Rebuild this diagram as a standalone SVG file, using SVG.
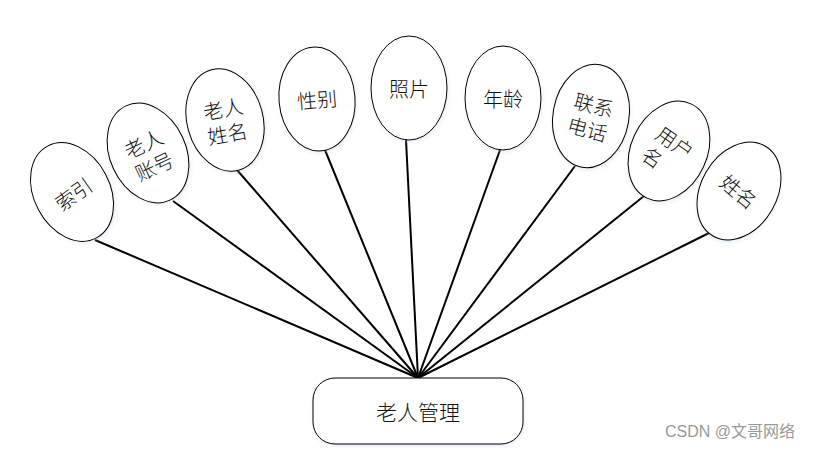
<svg xmlns="http://www.w3.org/2000/svg" width="817" height="449" viewBox="0 0 817 449">
<defs>
<filter id="blur" x="-30%" y="-30%" width="160%" height="160%">
<feGaussianBlur stdDeviation="2"/>
</filter>
<ellipse id="el" rx="38" ry="52"/>
</defs>
<style>
.attr .sh{fill:#b9c9e3;opacity:0.4;filter:url(#blur)}
.attr .bd{fill:#fff;stroke:#000;stroke-width:1}
.t{font-family:"Noto Sans CJK SC","Noto Sans CJK JP",sans-serif;font-size:20px;font-weight:300;fill:#111;text-anchor:middle;dominant-baseline:central}
.conn line{stroke:#000;stroke-width:2}
.wm{font-family:"Liberation Sans","Noto Sans CJK SC",sans-serif;font-size:16px;fill:#999}
</style>
<rect width="817" height="449" fill="#fff"/>
<g class="conn">
<line x1="95" y1="240" x2="418" y2="378"/>
<line x1="173" y1="201" x2="418" y2="378"/>
<line x1="237" y1="170" x2="418" y2="378"/>
<line x1="325" y1="150" x2="418" y2="378"/>
<line x1="406" y1="140" x2="418" y2="378"/>
<line x1="500" y1="150" x2="418" y2="378"/>
<line x1="575" y1="166" x2="418" y2="378"/>
<line x1="644" y1="196" x2="418" y2="378"/>
<line x1="709" y1="233" x2="418" y2="378"/>
</g>
<g id="n1" class="attr" transform="translate(72,192)">
<g transform="rotate(-28)"><use href="#el" class="sh" x="1" y="2"/><use href="#el" class="bd"/></g>
<text class="t" transform="rotate(-35)" x="0" y="2">索引</text>
</g>
<g id="n2" class="attr" transform="translate(148,153)">
<g transform="rotate(-25)"><use href="#el" class="sh" x="1" y="2"/><use href="#el" class="bd"/></g>
<g transform="rotate(-25)"><text class="t" x="0" y="-11">老人</text><text class="t" x="0" y="14">账号</text></g>
</g>
<g id="n3" class="attr" transform="translate(225,120)">
<g transform="rotate(-15)"><use href="#el" class="sh" x="1" y="2"/><use href="#el" class="bd"/></g>
<g transform="rotate(-10)"><text class="t" x="0" y="-12">老人</text><text class="t" x="0" y="13">姓名</text></g>
</g>
<g id="n4" class="attr" transform="translate(317,99)">
<g transform="rotate(-5)"><use href="#el" class="sh" x="1" y="2"/><use href="#el" class="bd"/></g>
<text class="t" transform="rotate(-5)" x="0" y="0">性别</text>
</g>
<g id="n5" class="attr" transform="translate(409,88)">
<use href="#el" class="sh" x="1" y="2"/><use href="#el" class="bd"/>
<text class="t" x="0" y="0">照片</text>
</g>
<g id="n6" class="attr" transform="translate(503,98)">
<use href="#el" class="sh" x="1" y="2"/><use href="#el" class="bd"/>
<text class="t" x="0" y="0">年龄</text>
</g>
<g id="n7" class="attr" transform="translate(591,116)">
<g transform="rotate(10)"><use href="#el" class="sh" x="1" y="2"/><use href="#el" class="bd"/></g>
<g transform="rotate(15)"><text class="t" x="0" y="-12">联系</text><text class="t" x="0" y="13">电话</text></g>
</g>
<g id="n8" class="attr" transform="translate(669,151)">
<g transform="rotate(25)"><use href="#el" class="sh" x="1" y="2"/><use href="#el" class="bd"/></g>
<g transform="rotate(35)"><text class="t" x="0" y="-11">用户</text><text class="t" x="-10" y="14">名</text></g>
</g>
<g id="n9" class="attr" transform="translate(739,191)">
<g transform="rotate(30)"><use href="#el" class="sh" x="1" y="2"/><use href="#el" class="bd"/></g>
<text class="t" transform="rotate(40)" x="0" y="0">姓名</text>
</g>
<g id="main">
<rect x="314" y="380" width="210" height="66" rx="22" ry="22" fill="#b9c9e3" opacity="0.4" filter="url(#blur)"/>
<rect x="313" y="378" width="210" height="66" rx="22" ry="22" fill="#fff" stroke="#000" stroke-width="1"/>
<text class="t" x="418" y="411" style="font-size:21px">老人管理</text>
</g>
<text class="wm" x="665" y="437">CSDN @文哥网络</text>
</svg>
